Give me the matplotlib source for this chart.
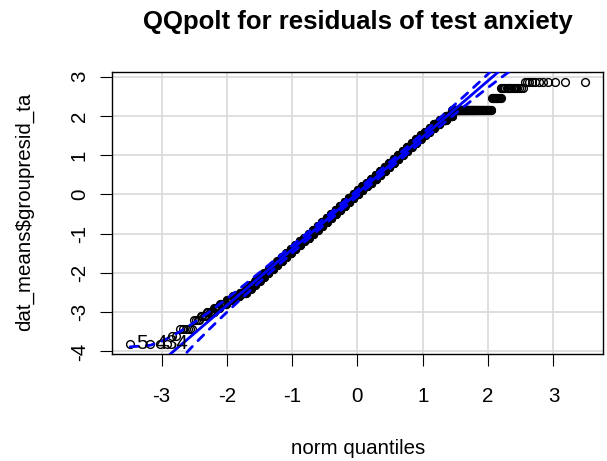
from statistics import NormalDist

import numpy as np
import matplotlib
matplotlib.use("Agg")
import matplotlib.pyplot as plt

plt.rcParams["font.family"] = ["Liberation Sans", "DejaVu Sans"]
plt.rcParams["axes.unicode_minus"] = False

# sorted residual values (tied levels) and how many observations sit at each level
res_values = [
    -3.80, -3.60, -3.42,
    -3.2, -3.1, -3.0, -2.9, -2.8, -2.7, -2.6, -2.5, -2.4, -2.3,
    -2.2, -2.1, -2.0, -1.9, -1.8, -1.7, -1.6, -1.5, -1.4, -1.3,
    -1.2, -1.1, -1.0, -0.9, -0.8, -0.7, -0.6, -0.5, -0.4, -0.3,
    -0.2, -0.1, 0.0, 0.1, 0.2, 0.3, 0.4, 0.5, 0.6, 0.7,
    0.8, 0.9, 1.0, 1.1, 1.2, 1.3, 1.4, 1.5, 1.6, 1.7,
    1.8, 1.9, 2.0,
    2.15, 2.45, 2.70, 2.85,
]
res_counts = [
    4, 2, 6,
    4, 5, 7, 7, 10, 11, 15, 17, 14, 15,
    17, 18, 21, 23, 24, 27, 29, 31, 34, 36,
    38, 40, 43, 44, 46, 49, 49, 51, 52, 54,
    53, 55, 54, 55, 54, 54, 53, 52, 51, 49,
    48, 46, 44, 42, 40, 37, 36, 33, 31, 28,
    33, 33, 29,
    107, 12, 17, 11,
]
# labelled extreme points (rank in sorted order, label text)
id_ranks = [1, 2, 3]
id_labels = ["5", "4", "34"]

title = "QQpolt for residuals of test anxiety"
xlab = "norm quantiles"
ylab = "dat_means$groupresid_ta"

y = np.repeat(res_values, res_counts)
n = len(y)
nd = NormalDist()
P = (np.arange(1, n + 1) - 0.5) / n
z = np.array([nd.inv_cdf(p) for p in P])


def huber_line(x, v, k=1.345, iters=60):
    # robust (Huber M-estimate) straight line, like MASS::rlm
    w = np.ones_like(v)
    for _ in range(iters):
        b, a = np.polyfit(x, v, 1, w=np.sqrt(w))
        r = v - (a + b * x)
        s = np.median(np.abs(r)) / 0.6745
        u = np.abs(r) / (k * s)
        w = np.where(u <= 1, 1.0, 1.0 / np.maximum(u, 1e-12))
    return a, b


intercept, slope = huber_line(z, y)
fit = intercept + slope * z
dens = np.array([nd.pdf(v) for v in z])
se = slope / dens * np.sqrt(P * (1 - P) / n)
zz = nd.inv_cdf(0.975)
upper = fit + zz * se
lower = fit - zz * se

fig = plt.figure(figsize=(6.07, 4.61), dpi=100)
ax = fig.add_axes([112 / 607, 1 - 354 / 461, 491 / 607, 282 / 461])

ax.plot(z, y, "o", ms=5.6, mfc="none", mec="black", mew=1.0, zorder=2)
ax.plot(z, fit, color="blue", lw=2.0, solid_capstyle="round", zorder=3)
for env in (upper, lower):
    ax.plot(z, env, color="blue", lw=2.0, dashes=(2.9, 2.9),
            dash_capstyle="round", zorder=3)

for r, lab in zip(id_ranks, id_labels):
    ax.annotate(lab, (z[r - 1], y[r - 1]), xytext=(4, 0), textcoords="offset points",
                ha="left", va="center", fontsize=14.8, zorder=4)

xr = z.max() - z.min()
yr = y.max() - y.min()
ax.set_xlim(z.min() - 0.04 * xr, z.max() + 0.04 * xr)
ax.set_ylim(y.min() - 0.04 * yr, y.max() + 0.04 * yr)
ax.set_xticks(range(-3, 4))
ax.set_yticks(range(-4, 4))
ax.grid(True, color="#d9d9d9", lw=1.2)
ax.set_axisbelow(True)
for s in ax.spines.values():
    s.set_linewidth(1.0)

ax.tick_params(axis="both", length=8.6, width=0.8, labelsize=14.8)
ax.tick_params(axis="x", pad=15)
ax.tick_params(axis="y", pad=8, labelrotation=90)
for t in ax.get_yticklabels():
    t.set_va("center")

fig.text(358 / 607, 1 - 448 / 461, xlab, ha="center", va="center", fontsize=14.8)
fig.text(25 / 607, 1 - 212 / 461, ylab, ha="center", va="center",
         rotation=90, fontsize=14.8)
fig.text(358 / 607, 1 - 22 / 461, title, ha="center", va="center",
         fontsize=18.5, fontweight="bold")

fig.savefig("out.png", dpi=100)
